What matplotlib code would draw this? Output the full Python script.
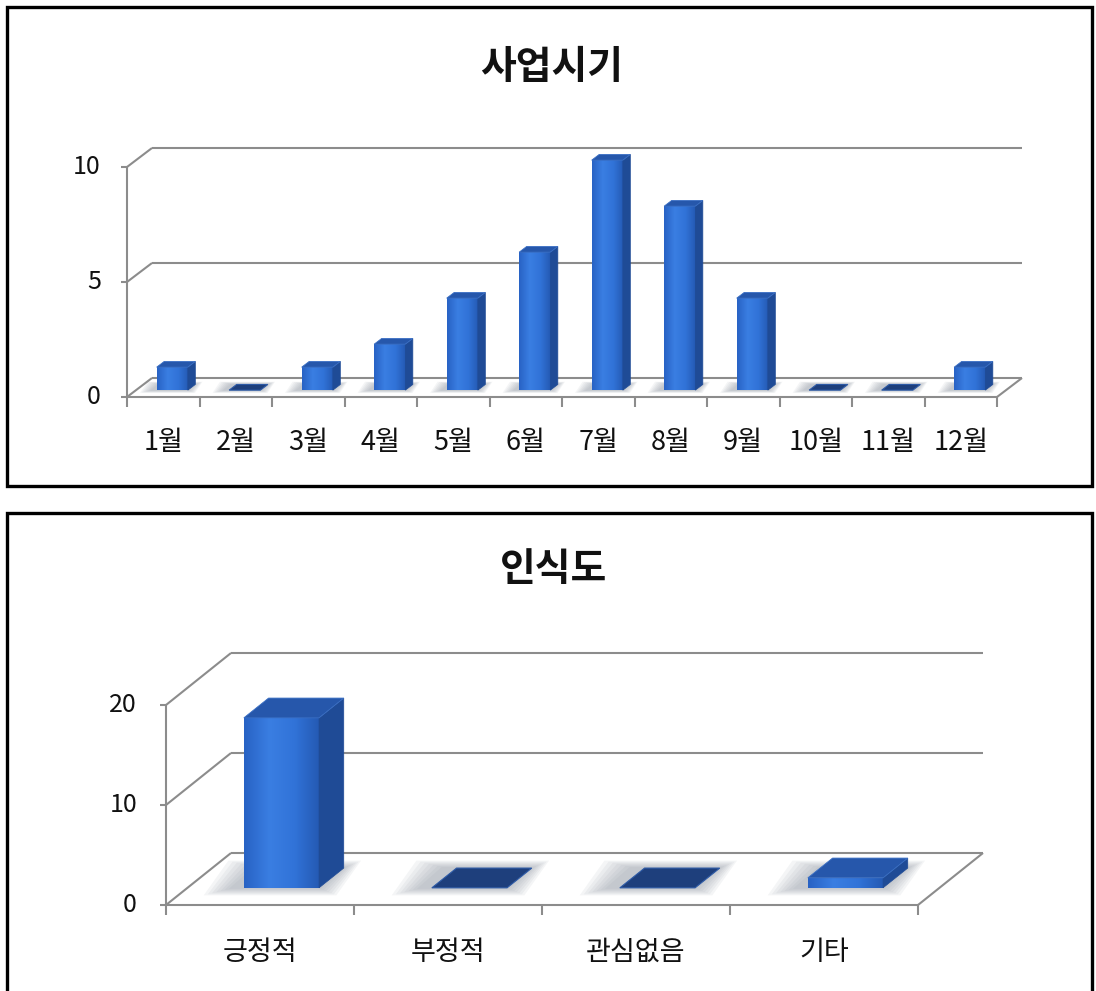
import numpy as np
import matplotlib
matplotlib.use("Agg")
import matplotlib.pyplot as plt
from matplotlib.patches import Polygon, Rectangle
from matplotlib.colors import LinearSegmentedColormap

plt.rcParams['font.family'] = ['Noto Sans CJK KR', 'DejaVu Sans']

# ---- data -------------------------------------------------------------
month_labels = ['1월', '2월', '3월', '4월', '5월', '6월',
                '7월', '8월', '9월', '10월', '11월', '12월']
month_counts = [1, 0, 1, 2, 4, 6, 10, 8, 4, 0, 0, 1]
month_ticks = [0, 5, 10]

view_labels = ['긍정적', '부정적', '관심없음', '기타']
view_counts = [17, 0, 0, 1]
view_ticks = [0, 10, 20]

# ---- styling ------------------------------------------------------------
W, H = 1096, 991
GRID = '#8c8c8c'
FRONT = LinearSegmentedColormap.from_list(
    'front', ['#2862c4', '#3a7ee2', '#3173d8', '#2459b2'])
SIDE = '#1f4b96'
TOP = '#2657ab'
FLAT = '#1e3f7c'

fig = plt.figure(figsize=(W / 100, H / 100), dpi=100)
fig.patch.set_facecolor('white')


def panel_axes(top_px, bottom_px, x0, y0, sx, sy):
    """Axes covering a horizontal band; data units = categories / values."""
    ax = fig.add_axes([0, 1 - bottom_px / H, 1, (bottom_px - top_px) / H])
    ax.set_xlim(-x0 / sx, (W - x0) / sx)
    ax.set_ylim((y0 - bottom_px) / sy, (y0 - top_px) / sy)
    ax.axis('off')
    return ax


def draw_panel(ax, labels, values, ticks, sx, sy, depth_px, bar_w, f0, f1,
               label_dy_px, tick_dx_px):
    n = len(labels)
    ddx, ddy = depth_px[0] / sx, depth_px[1] / sy
    xlim, ylim = ax.get_xlim(), ax.get_ylim()
    line = dict(color=GRID, lw=1.5, solid_capstyle='butt', zorder=1)

    # back wall gridlines and side wall diagonals
    for t in ticks:
        ax.plot([ddx, n + ddx], [t + ddy, t + ddy], **line)
        ax.plot([0, ddx], [t, t + ddy], **line)
    # floor right edge
    ax.plot([n, n + ddx], [0, ddy], **line)

    # front axes with ticks
    ax.plot([0, 0], [0, ticks[-1]], **line)
    ax.plot([0, n], [0, 0], **line)
    for t in ticks:
        ax.plot([-6 / sx, 0], [t, t], **line)
        ax.text(tick_dx_px / sx, t, str(t), ha='right', va='center',
                fontsize=18, color='#111111')
    for i in range(n + 1):
        ax.plot([i, i], [0, -10 / sy], **line)
    for i, lab in enumerate(labels):
        ax.text(i + 0.5, label_dy_px / sy, lab, ha='center', va='center',
                fontsize=19.5, color='#111111')

    bx, by = (f1 - f0) * ddx, (f1 - f0) * ddy
    for i, v in enumerate(values):
        xl = i + 0.5 - bar_w / 2 + f0 * ddx
        xr = i + 0.5 + bar_w / 2 + f0 * ddx
        yb = f0 * ddy
        yt = v + yb

        # soft floor shadow around the footprint
        for k in range(7):
            e = 0.03 + 0.035 * k
            gx = e * bar_w * 1.6
            sh = [(xl - gx - 0.15 * bar_w, yb - e * 0.6 * ddy),
                  (xr + gx * 0.6, yb - e * 0.6 * ddy),
                  (xr + bx + gx * 0.6, yb + by + e * 0.6 * ddy),
                  (xl + bx - gx - 0.15 * bar_w, yb + by + e * 0.6 * ddy)]
            ax.add_patch(Polygon(sh, closed=True, facecolor='#8a929e',
                                 edgecolor='none', alpha=0.09, zorder=2))

        if v > 0:
            ax.imshow(np.linspace(0, 1, 256)[None, :], cmap=FRONT,
                      extent=(xl, xr, yb, yt), aspect='auto', origin='lower',
                      interpolation='bilinear', zorder=3)
            side = [(xr, yb), (xr + bx, yb + by), (xr + bx, yt + by), (xr, yt)]
            ax.add_patch(Polygon(side, closed=True, facecolor=SIDE,
                                 edgecolor=SIDE, lw=0.5, zorder=3))
            top = [(xl, yt), (xr, yt), (xr + bx, yt + by), (xl + bx, yt + by)]
            ax.add_patch(Polygon(top, closed=True, facecolor=TOP,
                                 edgecolor='#3a6fc4', lw=0.6, zorder=3))
        else:
            flat = [(xl, yb), (xr, yb), (xr + bx, yb + by), (xl + bx, yb + by)]
            ax.add_patch(Polygon(flat, closed=True, facecolor=FLAT,
                                 edgecolor='#2d5aa6', lw=0.8, zorder=3))

    ax.set_xlim(xlim)
    ax.set_ylim(ylim)


# ---- top panel: 사업시기 -----------------------------------------------------
sx1, sy1 = 72.5, 23.0
ax1 = panel_axes(0, 500, 127, 397, sx1, sy1)
draw_panel(ax1, month_labels, month_counts, month_ticks, sx1, sy1,
           depth_px=(25, 19), bar_w=0.43, f0=0.36, f1=0.66,
           label_dy_px=397 - 443, tick_dx_px=101 - 127)

# ---- bottom panel: 인식도 ----------------------------------------------------
sx2, sy2 = 188.0, 10.0
ax2 = panel_axes(500, 991, 166, 905, sx2, sy2)
draw_panel(ax2, view_labels, view_counts, view_ticks, sx2, sy2,
           depth_px=(65, 52), bar_w=0.40, f0=0.33, f1=0.71,
           label_dy_px=905 - 952, tick_dx_px=137 - 166)

# ---- titles and frames --------------------------------------------------
fig.text(552 / W, 1 - 68 / H, '사업시기', ha='center', va='center',
         fontsize=28, fontweight='bold', color='#111111')
fig.text(554 / W, 1 - 570 / H, '인식도', ha='center', va='center',
         fontsize=28, fontweight='bold', color='#111111')

for (l, t, r, b) in [(7, 7, 1092, 486), (7, 513, 1092, 1010)]:
    fig.patches.append(Rectangle((l / W, 1 - b / H), (r - l) / W, (b - t) / H,
                                 transform=fig.transFigure, fill=False,
                                 edgecolor='black', lw=2.4, zorder=10))

fig.savefig('out.png', dpi=100, facecolor='white')
